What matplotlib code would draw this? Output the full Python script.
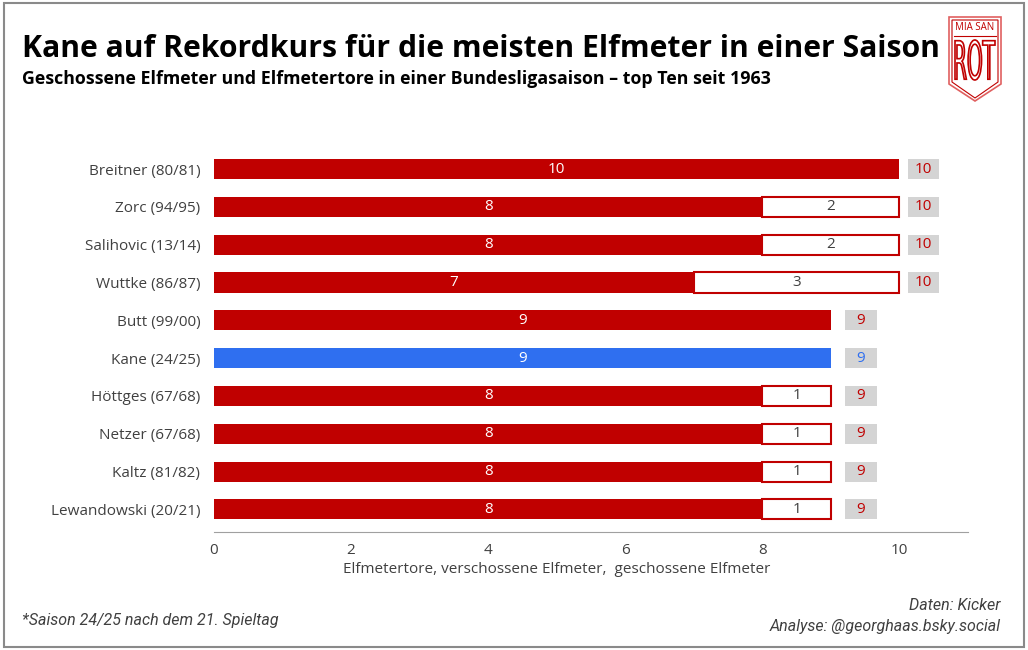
import matplotlib.pyplot as plt
from matplotlib.patches import Rectangle, Polygon, PathPatch
from matplotlib.textpath import TextPath
from matplotlib.transforms import Affine2D
from matplotlib.font_manager import FontProperties

players = ["Breitner (80/81)", "Zorc (94/95)", "Salihovic (13/14)", "Wuttke (86/87)",
           "Butt (99/00)", "Kane (24/25)", "Höttges (67/68)", "Netzer (67/68)",
           "Kaltz (81/82)", "Lewandowski (20/21)"]
goals = [10, 8, 8, 7, 9, 9, 8, 8, 8, 8]
missed = [0, 2, 2, 3, 0, 0, 1, 1, 1, 1]
shots = [10, 10, 10, 10, 9, 9, 9, 9, 9, 9]
xticks = [0, 2, 4, 6, 8, 10]

RED = "#c00000"
BLUE = "#2f6ff0"
GREY = "#404040"

plt.rcParams['font.family'] = ['Open Sans', 'DejaVu Sans']

fig = plt.figure(figsize=(10.28, 6.5), dpi=100)
ax = fig.add_axes([0.2082, 0.1815, 0.7334, 0.5875])

y = list(range(len(players)))
colors = [BLUE if p.startswith("Kane") else RED for p in players]
ax.barh(y, goals, height=0.53, color=colors, zorder=2)
my = [i for i in y if missed[i] > 0]
ax.barh(my, [missed[i] for i in my], left=[goals[i] for i in my], height=0.53,
        color="white", edgecolor=RED, linewidth=1.5, zorder=2)

for i in y:
    ax.text(goals[i] / 2, i, str(goals[i]), color="white", ha="center", va="center",
            fontsize=11, zorder=3)
    if missed[i] > 0:
        ax.text(goals[i] + missed[i] / 2, i, str(missed[i]), color=GREY, ha="center",
                va="center", fontsize=11, zorder=3)
    # total label in a grey box; one-digit labels sit a little further out
    gap = 0.12 if len(str(shots[i])) > 1 else 0.21
    ax.add_patch(Rectangle((shots[i] + gap, i - 0.265), 0.46, 0.53, fc="#d4d4d4",
                           ec="none", zorder=2))
    ax.text(shots[i] + gap + 0.23, i, str(shots[i]), color=colors[i], ha="center",
            va="center", fontsize=11, zorder=3)

ax.set_yticks(y)
ax.set_yticklabels(players, color=GREY, fontsize=11)
ax.set_xticks(xticks)
ax.set_xticklabels([str(t) for t in xticks], color=GREY, fontsize=11)
ax.tick_params(axis="y", length=0, pad=10)
ax.tick_params(axis="x", length=0, pad=8)
ax.set_xlim(0, 11)
ax.set_ylim(9.6, -0.5)
for s in ["top", "right", "left"]:
    ax.spines[s].set_visible(False)
ax.spines["bottom"].set_color("#a0a0a0")
ax.text(5, 10.6, "Elfmetertore, verschossene Elfmeter,  geschossene Elfmeter",
        ha="center", va="center", color=GREY, fontsize=11)

# title block
fig.text(0.021, 0.925, "Kane auf Rekordkurs für die meisten Elfmeter in einer Saison",
         fontsize=21.7, fontweight="bold", va="center")
fig.text(0.021, 0.878, "Geschossene Elfmeter und Elfmetertore in einer Bundesligasaison – top Ten seit 1963",
         fontsize=12.8, fontweight="bold", va="center")

# footer
fig.text(0.021, 0.045, "*Saison 24/25 nach dem 21. Spieltag", fontsize=11.5,
         style="italic", color=GREY, va="center", family="Roboto")
fig.text(0.973, 0.068, "Daten: Kicker", fontsize=11.5, style="italic", color=GREY,
         ha="right", va="center", family="Roboto")
fig.text(0.973, 0.036, "Analyse: @georghaas.bsky.social", fontsize=11.5, style="italic",
         color=GREY, ha="right", va="center", family="Roboto")

# frame
fig.patches.append(Rectangle((0.004, 0.005), 0.992, 0.99, transform=fig.transFigure,
                             fill=False, ec="#8a8a8a", lw=1.5))

# logo in its own pixel-unit axes
lax = fig.add_axes([948 / 1028, 1 - 102 / 650, 54 / 1028, 86 / 650])
lax.set_xlim(0, 54)
lax.set_ylim(0, 86)
lax.axis("off")
lax.add_patch(Polygon([(1, 85), (53, 85), (53, 18), (27, 1), (1, 18)], closed=True,
                      fc="white", ec="#e06060", lw=1.2))
lax.add_patch(Polygon([(4, 82), (50, 82), (50, 20), (27, 4), (4, 20)], closed=True,
                      fill=False, ec=RED, lw=0.8))
lax.plot([6, 48], [66, 66], color=RED, lw=0.8)
lax.text(27, 74, "MIA SAN", color=RED, fontsize=7, ha="center", va="center")
tp = TextPath((0, 0), "ROT", size=1, prop=FontProperties(family="DejaVu Sans"))
ext = tp.get_extents()
sx = 40 / ext.width
sy = 40 / ext.height
tr = Affine2D().translate(-ext.x0, -ext.y0).scale(sx, sy).translate(7, 22)
lax.add_patch(PathPatch(tr.transform_path(tp), fc="white", ec=RED, lw=1.2))

fig.savefig("out.png", dpi=100)
